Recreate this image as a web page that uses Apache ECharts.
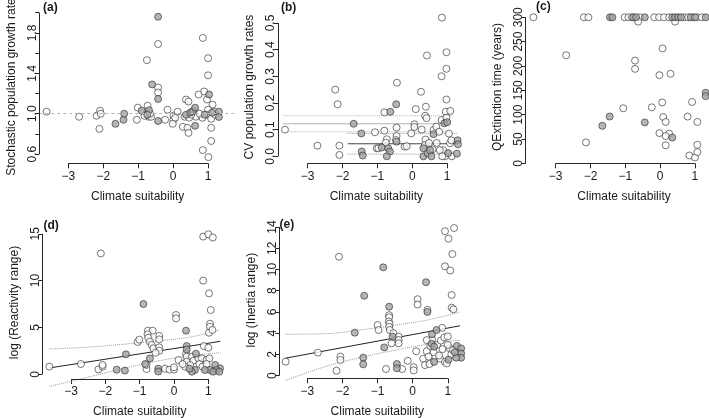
<!DOCTYPE html>
<html><head><meta charset="utf-8">
<script src="https://cdn.jsdelivr.net/npm/echarts@6/dist/echarts.min.js"></script>
<style>html,body{margin:0;padding:0;background:#fff}#c{width:709px;height:418px}</style>
</head><body><div id="c"></div>
<script>
// ---------------- data ----------------
const xTicks = [-3, -2, -1, 0, 1];

// (a) Stochastic population growth rate
const aYTicks = [0.6, 0.8, 1.0, 1.2, 1.4, 1.6, 1.8, 2.0];
const aYLabels = [0.6, 1.0, 1.4, 1.8];
const aRef = 1.0;
const aOpen = [
[-3.62,1.02],[-2.69,0.97],[-2.19,0.98],[-2.09,1.03],[-2.07,1.00],[-2.11,0.85],
[-1.04,0.94],[-1.01,1.06],[-0.75,1.53],[-0.43,1.69],[-0.43,1.26],[-0.43,1.21],
[-0.73,1.08],[-0.78,1.00],[-0.70,0.97],[-0.63,0.97],[-0.82,0.98],[-0.66,1.00],
[-0.23,0.94],[-0.16,1.04],[0.01,0.98],[0.01,0.94],[0.13,1.02],[0.06,0.96],[-0.01,0.90],
[0.28,0.87],[0.37,1.14],[0.44,1.12],[0.41,0.86],[0.44,0.81],[0.33,0.97],[0.46,0.96],
[0.58,1.03],[0.65,0.97],[0.73,1.19],[0.89,1.22],[0.97,1.14],[1.13,1.09],[1.00,1.04],
[0.95,0.99],[0.84,0.96],[1.09,0.95],[1.20,0.99],[1.09,0.86],[1.09,0.73],[0.85,0.64],[1.01,0.57],
[0.85,1.75],[1.00,1.55],[1.00,1.38],[0.52,0.99],[0.76,1.00],[1.17,1.02]
];
const aGrey = [
[-1.65,0.90],[-1.42,0.94],[-1.40,1.00],[-0.90,1.03],[-0.69,1.035],[-0.74,0.99],[-0.60,1.29],
[-0.43,1.96],[-0.43,1.146],[-0.43,0.928],[0.37,0.99],[0.49,1.01],[0.55,1.02],[0.63,1.06],
[0.63,0.88],[0.90,0.99],[1.03,1.19],[1.11,1.01],[1.31,1.02],[1.31,0.968]
];

// (b) CV population growth rates
const bYTicks = [0, 0.1, 0.2, 0.3, 0.4, 0.5];
const bOpen = [
[-3.65,0.10],[-2.72,0.04],[-2.21,0.25],[-2.14,0.195],[-2.09,0.04],[-2.09,0.005],
[-1.07,0.09],[-1.02,0.03],[-0.97,0.03],[-0.80,0.165],[-0.80,0.096],[-0.73,0.064],[-0.76,0.051],
[-0.44,0.276],[-0.45,0.108],[-0.45,0.076],[-0.47,0.061],[-0.22,0.036],[-0.16,0.038],[-0.03,0.086],
[0.06,0.12],[0.06,0.11],[0.10,0.177],[0.25,0.242],[0.27,0.10],[0.37,0.152],[0.39,0.186],[0.41,0.143],
[0.42,0.378],[0.38,0.063],[0.36,0.042],[0.58,0.026],[0.61,0.099],[0.69,0.111],[0.77,0.092],[0.84,0.136],
[0.85,0.52],[0.98,0.39],[0.98,0.328],[0.84,0.30],[0.98,0.213],[0.96,0.167],[1.09,0.17],[0.98,0.145],
[1.05,0.085],[0.89,0.023],[0.79,0.023],[0.94,0.0],[1.08,0.049],[0.86,0.0],[1.13,0.0],[1.12,0.06],
[0.48,0.05],[0.70,0.05]
];
const bGrey = [
[-1.68,0.122],[-1.46,0.086],[-1.45,0.018],[-1.42,0.003],[-0.63,0.167],[-0.46,0.195],[-0.88,0.033],
[-0.69,0.03],[-0.64,0.018],[-0.73,0.0],[-0.45,0.055],[0.32,0.03],[0.32,0.0],[0.44,0.011],[0.51,0.023],
[0.61,0.083],[0.92,0.124],[1.00,0.128],[1.03,0.012],[1.30,0.06],[1.31,0.045],[1.28,0.01],[0.55,0.0]
];
const bOpenMean = 0.122, bOpenCI = [0.092, 0.152], bOpenSpan = [-3.7, 1.1];
const bGreyMean = 0.047, bGreyCI = [0.008, 0.086], bGreySpan = [-1.85, 1.3];

// (c) QExtinction time (years)
const cYTicks = [0, 50, 100, 150, 200, 250, 300];
const cOpen = [
[-3.64,300],[-2.19,300],[-2.06,300],[-1.02,300],[-0.91,300],[-0.81,300],[-0.58,300],[-0.17,300],
[-0.03,300],[0.11,300],[0.26,300],[0.70,300],[0.81,300],[0.95,300],[1.07,300],[1.20,300],
[-0.63,291],[0.43,291],
[-2.70,222],[-0.72,211],[-0.72,194],[0.07,236],[-0.02,181],[0.30,184],[-1.06,113],[-0.24,115],
[0.06,125],[0.92,126],[0.09,95],[0.16,85],[0.79,96],[1.07,85],[-0.02,62],[0.26,61],[0.16,56],
[0.16,37],[1.07,38],[-2.13,43],[0.84,16],[1.00,12],[1.07,23]
];
const cGrey = [
[-1.44,300],[-1.37,300],[-0.77,300],[-0.69,300],[-0.44,300],[0.35,300],[0.43,300],[0.52,300],
[0.60,300],[0.88,300],[1.00,300],[1.31,300],
[-1.66,77],[-1.45,96],[-0.44,84],[0.35,53],[1.31,145],[1.31,138]
];

// (d) log (Reactivity range)
const dYTicks = [0, 5, 10, 15];
const dOpen = [
[-3.63,0.82],[-2.71,1.1],[-2.13,12.9],[-2.2,0.53],[-2.08,0.82],[-2.08,1.0],
[-1.06,3.45],[-1.01,3.7],[-0.76,4.66],[-0.62,4.66],[-0.77,4.27],[-0.75,3.9],[-0.7,3.48],[-0.65,3.13],
[-0.6,2.77],[-0.43,4.1],[-0.43,3.73],[-0.43,2.88],[-0.43,2.52],[-0.54,2.3],[-0.8,0.57],[-0.8,1.0],
[-0.26,0.6],[-0.13,0.5],[0.0,0.5],[0.0,0.75],[0.06,6.33],[0.06,5.97],[0.13,1.53],
[0.35,2.2],[0.37,1.88],[0.52,1.88],[0.56,1.45],[0.71,1.7],[0.81,1.7],[0.95,1.53],[1.03,1.7],
[0.74,1.1],[0.83,0.82],[0.95,1.1],[0.37,1.35],[0.47,1.0],[0.32,0.82],[0.25,1.1],
[0.87,3.02],[1.0,2.84],[0.85,10.0],[0.85,14.7],[1.0,14.95],[1.13,14.6],[1.02,8.64],[1.07,6.86],
[1.05,5.4],[1.05,5.08],[1.02,4.44],[1.12,4.73]
];
const dGrey = [
[-1.67,0.5],[-1.43,0.4],[-1.4,2.13],[-0.89,7.5],[-0.7,1.7],[-0.84,1.1],[-0.46,0.6],[-0.46,0.3],
[0.35,4.66],[0.37,3.02],[0.37,2.66],[0.64,2.2],[1.2,1.0],[1.34,0.64],[1.24,0.46],[1.05,0.46],
[1.14,0.28],[1.32,0.28],[0.9,0.46],[0.61,0.46],[0.52,0.28],[0.45,0.6]
];
const dFit = [[-3.63,0.68],[1.35,3.52]];
const dUpper = [[-3.63,2.7],[-2.5,2.9],[-1.5,3.2],[-0.5,3.55],[0.5,4.0],[1.35,4.75]];
const dLower = [[-3.63,-1.3],[-2.5,-0.3],[-1.5,0.6],[-0.5,1.4],[0.5,2.0],[1.35,2.3]];

// (e) log (Inertia range)
const eYTicks = [0, 2, 4, 6, 8, 10, 12, 14];
const eOpen = [
[-3.62,1.32],[-2.70,2.17],[-2.10,11.2],[-2.06,1.8],[-2.06,1.48],[-2.17,0.47],
[-1.0,4.77],[-0.97,4.3],[-0.67,5.7],[-0.67,5.5],[-0.68,5.1],[-0.66,4.9],[-0.67,4.6],[-0.65,4.3],
[-0.55,4.0],[-0.4,3.67],[-0.4,3.36],[-0.4,3.05],[-0.6,3.05],[-0.76,0.63],
[-0.14,1.4],[0.03,0.8],[0.03,0.5],[-0.3,0.63],[0.14,7.2],[0.14,6.7],[0.42,6.2],[0.1,2.3],
[0.84,4.5],[0.3,1.6],[0.35,1.0],[0.48,1.1],[0.64,1.8],[0.78,1.6],[0.92,1.3],[0.97,1.15],
[0.4,2.3],[0.5,2.8],[0.6,2.2],[0.7,2.9],[0.8,3.3],[0.9,3.6],[1.0,3.7],[1.05,2.6],[1.1,2.0],
[0.55,3.4],[0.45,1.8],[0.85,2.5],[1.15,2.4],[1.0,2.9],[0.75,1.9],[0.4,3.35],
[0.92,13.6],[1.18,13.9],[1.02,12.9],[1.13,11.45],[0.92,10.3],[1.07,9.9],[1.11,7.6],[1.11,6.4],[1.16,6.25]
];
const eGrey = [
[-1.65,4.05],[-1.38,7.53],[-1.41,1.7],[-1.41,1.07],[-0.84,10.2],[-0.67,6.5],[-0.57,3.67],[-0.81,2.66],
[-0.45,1.1],[-0.45,0.7],[0.38,8.8],[0.42,6.0],[0.55,3.9],[0.68,4.3],[0.54,3.0],[0.61,2.73],[0.61,1.3],
[1.02,1.5],[1.26,2.8],[1.38,2.57],[1.38,2.1],[1.38,1.7],[1.24,1.7],[1.2,2.2]
];
const eFit = [[-3.62,1.65],[1.35,4.7]];
const eUpper = [[-3.62,3.9],[-2.5,3.95],[-1.5,4.3],[-0.5,4.75],[0.5,5.3],[1.35,6.0]];
const eLower = [[-3.62,-0.45],[-2.5,0.85],[-1.5,1.7],[-0.5,2.4],[0.5,3.0],[1.35,3.35]];

// ---------------- layout & style ----------------
const FONT = '"Liberation Sans", Arial, Helvetica, sans-serif';
const TXT = '#1a1a1a', AX = '#262626';
const panels = [
 {label:'(a)', grid:{left:39.3,top:10.7,width:196.7,height:152.6}, x:[-3.83,1.80], y:[0.509,2.02],
  yTicks:aYTicks, yLabels:aYLabels, yFmt:v=>v.toFixed(1), yName:'Stochastic population growth rate',
  open:aOpen, grey:aGrey, lab:[43,2]},
 {label:'(b)', grid:{left:278,top:10.7,width:196.7,height:152.6}, x:[-3.85,1.79], y:[-0.0262,0.546],
  yTicks:bYTicks, yLabels:bYTicks, yFmt:v=>v.toFixed(1), yName:'CV population growth rates',
  open:bOpen, grey:bGrey, lab:[281,2]},
 {label:'(c)', grid:{left:525.7,top:10.7,width:196.7,height:152.6}, x:[-3.862,1.79], y:[0,313.5],
  yTicks:cYTicks, yLabels:cYTicks, yFmt:v=>String(v), yName:'QExtinction time (years)',
  open:cOpen, grey:cGrey, lab:[536,1]},
 {label:'(d)', grid:{left:42.3,top:226,width:195,height:153}, x:[-3.836,1.844], y:[-0.5,15.83],
  yTicks:dYTicks, yLabels:dYTicks, yFmt:v=>String(v), yName:'log (Reactivity range)',
  open:dOpen, grey:dGrey, lab:[43.5,220]},
 {label:'(e)', grid:{left:279.3,top:222,width:196,height:156.3}, x:[-3.80,1.784], y:[-0.245,14.47],
  yTicks:eYTicks, yLabels:eYTicks, yFmt:v=>String(v), yName:'log (Inertia range)',
  open:eOpen, grey:eGrey, lab:[279.5,219]}
];

const grids=[], xAxes=[], yAxes=[], series=[], titles=[];
const fmtX = v => (v < 0 ? '\u2212' + Math.abs(v) : String(v));
const pointStyleOpen = {color:'#ffffff', borderColor:'#2a2a2a', borderWidth:0.8};
const pointStyleGrey = {color:'#a3a3a3', borderColor:'#2a2a2a', borderWidth:0.8};

function lineSeries(i, data, color, type, width, smooth){
  return {type:'line', xAxisIndex:i, yAxisIndex:i, data:data, symbol:'none', clip:false, silent:true,
    smooth:smooth||false, lineStyle:{color:color, type:type, width:width||1}, z:1};
}

panels.forEach((p,i)=>{
  grids.push(Object.assign({containLabel:false, outerBoundsMode:'none'}, p.grid));
  xAxes.push({gridIndex:i, type:'value', min:p.x[0], max:p.x[1],
    axisLine:{show:false, onZero:false}, splitLine:{show:false},
    axisTick:{show:true, customValues:xTicks, length:5, lineStyle:{color:AX, width:1}},
    axisLabel:{customValues:xTicks, formatter:fmtX, margin:7, fontSize:12, color:TXT, fontFamily:FONT},
    name:'Climate suitability', nameLocation:'middle', nameGap:27,
    nameTextStyle:{fontSize:12, color:TXT, fontFamily:FONT}});
  yAxes.push({gridIndex:i, type:'value', min:p.y[0], max:p.y[1],
    axisLine:{show:false, onZero:false}, splitLine:{show:false},
    axisTick:{show:true, customValues:p.yTicks, length:4, lineStyle:{color:AX, width:1}},
    axisLabel:{customValues:p.yLabels, formatter:p.yFmt, rotate:90, margin:1, fontSize:12, color:TXT, fontFamily:FONT},
    name:p.yName, nameLocation:'middle', nameGap:22,
    nameTextStyle:{fontSize:12, color:TXT, fontFamily:FONT}});
  titles.push({text:p.label, left:p.lab[0], top:p.lab[1], padding:0,
    textStyle:{fontSize:12, fontWeight:'bold', color:TXT, fontFamily:FONT}});
});

// panel (a) reference line
series.push({type:'line', xAxisIndex:0, yAxisIndex:0, data:[], symbol:'none', silent:true,
  markLine:{silent:true, symbol:'none', label:{show:false}, lineStyle:{color:'#b5b5b5', type:[3,3], width:1},
    data:[{yAxis:aRef}]}});

// panel (b) group means and CIs
series.push(lineSeries(1, [[bOpenSpan[0], bOpenCI[0]],[bOpenSpan[1], bOpenCI[0]]], '#b0b0b0', 'dotted', 1));
series.push(lineSeries(1, [[bOpenSpan[0], bOpenCI[1]],[bOpenSpan[1], bOpenCI[1]]], '#b0b0b0', 'dotted', 1));
series.push(lineSeries(1, [[bOpenSpan[0], bOpenMean],[bOpenSpan[1], bOpenMean]], '#b5b5b5', 'solid', 1));
series.push(lineSeries(1, [[bGreySpan[0], bGreyCI[0]],[bGreySpan[1], bGreyCI[0]]], '#999999', 'dotted', 1));
series.push(lineSeries(1, [[bGreySpan[0], bGreyCI[1]],[bGreySpan[1], bGreyCI[1]]], '#999999', 'dotted', 1));
series.push(lineSeries(1, [[bGreySpan[0], bGreyMean],[bGreySpan[1], bGreyMean]], '#444444', 'solid', 1));

// panels (d),(e) regression and confidence bands
series.push(lineSeries(3, dFit, '#222222', 'solid', 1));
series.push(lineSeries(3, dUpper, '#9a9a9a', 'dotted', 1, 0.4));
series.push(lineSeries(3, dLower, '#9a9a9a', 'dotted', 1, 0.4));
series.push(lineSeries(4, eFit, '#222222', 'solid', 1));
series.push(lineSeries(4, eUpper, '#9a9a9a', 'dotted', 1, 0.4));
series.push(lineSeries(4, eLower, '#9a9a9a', 'dotted', 1, 0.4));

// points
panels.forEach((p,i)=>{
  series.push({type:'scatter', xAxisIndex:i, yAxisIndex:i, data:p.open, symbol:'circle', symbolSize:7,
    clip:false, silent:true, itemStyle:pointStyleOpen, z:3});
  series.push({type:'scatter', xAxisIndex:i, yAxisIndex:i, data:p.grey, symbol:'circle', symbolSize:7,
    clip:false, silent:true, itemStyle:pointStyleGrey, z:4});
});

const chart = echarts.init(document.getElementById('c'), null, {renderer:'canvas'});
chart.setOption({animation:false, backgroundColor:'#ffffff', title:titles,
  grid:grids, xAxis:xAxes, yAxis:yAxes, series:series});

// R-style axis lines spanning only the tick range, positioned through the chart's own scales
const snap = v => Math.round(v - 0.5) + 0.5;
const axisGraphics = [];
panels.forEach((p,i)=>{
  const px = pt => chart.convertToPixel({gridIndex:i}, pt);
  const x0 = px([xTicks[0], p.y[0]]), x1 = px([xTicks[xTicks.length-1], p.y[0]]);
  const y0 = px([p.x[0], p.yTicks[0]]), y1 = px([p.x[0], p.yTicks[p.yTicks.length-1]]);
  axisGraphics.push({type:'line', id:'xl'+i, silent:true, z:100,
    shape:{x1:x0[0], y1:snap(x0[1]), x2:x1[0], y2:snap(x1[1])}, style:{stroke:AX, lineWidth:1}});
  axisGraphics.push({type:'line', id:'yl'+i, silent:true, z:100,
    shape:{x1:snap(y0[0]), y1:y0[1], x2:snap(y1[0]), y2:y1[1]}, style:{stroke:AX, lineWidth:1}});
});
chart.setOption({graphic:axisGraphics});
</script></body></html>
